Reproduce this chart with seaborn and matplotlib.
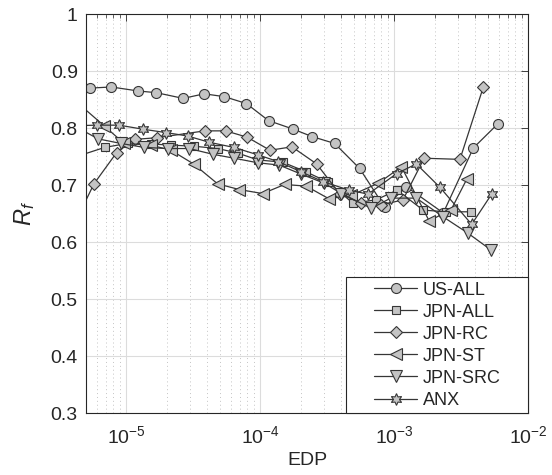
import numpy as np
import pandas as pd
import matplotlib
matplotlib.use("Agg")
import matplotlib.pyplot as plt
import seaborn as sns
from matplotlib.ticker import LogLocator, FixedLocator, NullFormatter
from matplotlib.patches import Rectangle

sns.set_style("white")
plt.rcParams['font.family'] = ['Liberation Sans', 'DejaVu Sans']
plt.rcParams['mathtext.fontset'] = 'custom'
plt.rcParams['mathtext.rm'] = 'Liberation Sans'
plt.rcParams['mathtext.it'] = 'Liberation Sans:italic'

series_names = ["US-ALL", "JPN-ALL", "JPN-RC", "JPN-ST", "JPN-SRC", "ANX"]

us_all_x = [5.34e-6, 7.72e-6, 1.22e-5, 1.67e-5, 2.65e-5, 3.81e-5, 5.38e-5, 7.86e-5, 1.15e-4,
            1.76e-4, 2.43e-4, 3.58e-4, 5.51e-4, 8.48e-4, 1.23e-3, 2.32e-3, 3.89e-3, 5.91e-3]
us_all_y = [0.870, 0.872, 0.865, 0.862, 0.852, 0.860, 0.855, 0.843, 0.813,
            0.798, 0.785, 0.773, 0.729, 0.661, 0.697, 0.651, 0.765, 0.807]

jpn_all_x = [4.0e-6, 6.89e-6, 1.02e-5, 1.52e-5, 2.15e-5, 3.21e-5, 4.8e-5, 6.78e-5, 9.57e-5,
             1.47e-4, 2.2e-4, 3.2e-4, 4.92e-4, 7.3e-4, 1.05e-3, 1.64e-3, 2.45e-3, 3.73e-3]
jpn_all_y = [0.748, 0.766, 0.773, 0.772, 0.770, 0.768, 0.764, 0.756, 0.744,
             0.740, 0.723, 0.705, 0.668, 0.674, 0.691, 0.656, 0.653, 0.653]

jpn_rc_x = [4.0e-6, 5.72e-6, 8.46e-6, 1.15e-5, 1.69e-5, 3.85e-5, 5.51e-5, 7.95e-5, 1.18e-4,
            1.72e-4, 2.63e-4, 3.9e-4, 5.67e-4, 8.0e-4, 1.16e-3, 1.67e-3, 3.09e-3, 4.62e-3]
jpn_rc_y = [0.627, 0.702, 0.757, 0.780, 0.783, 0.795, 0.795, 0.784, 0.761,
            0.767, 0.737, 0.685, 0.668, 0.665, 0.674, 0.747, 0.745, 0.872]

jpn_st_x = [4.0e-6, 6.8e-6, 9.6e-6, 1.52e-5, 2.15e-5, 3.17e-5, 4.8e-5, 6.97e-5, 1.04e-4,
            1.52e-4, 2.2e-4, 3.24e-4, 4.77e-4, 7.57e-4, 1.13e-3, 1.82e-3, 2.66e-3, 3.47e-3]
jpn_st_y = [0.851, 0.804, 0.773, 0.770, 0.761, 0.737, 0.702, 0.692, 0.685,
            0.701, 0.698, 0.676, 0.682, 0.703, 0.732, 0.637, 0.657, 0.710]

jpn_src_x = [4.0e-6, 6.13e-6, 9.06e-6, 1.35e-5, 2.03e-5, 2.94e-5, 4.4e-5, 6.38e-5, 9.57e-5,
             1.38e-4, 2.02e-4, 3.01e-4, 4.02e-4, 6.74e-4, 9.4e-4, 1.46e-3, 2.32e-3, 3.52e-3, 5.27e-3]
jpn_src_y = [0.805, 0.781, 0.773, 0.766, 0.764, 0.764, 0.754, 0.747, 0.739,
             0.735, 0.719, 0.703, 0.685, 0.659, 0.677, 0.677, 0.644, 0.616, 0.586]

anx_x = [4.0e-6, 6.0e-6, 8.81e-6, 1.32e-5, 1.97e-5, 2.86e-5, 4.15e-5, 6.32e-5, 9.57e-5,
         1.36e-4, 2.02e-4, 2.93e-4, 4.59e-4, 6.37e-4, 1.04e-3, 1.46e-3, 2.19e-3, 3.78e-3, 5.33e-3]
anx_y = [0.804, 0.805, 0.805, 0.798, 0.792, 0.786, 0.775, 0.766, 0.753,
         0.741, 0.723, 0.706, 0.691, 0.684, 0.720, 0.737, 0.696, 0.631, 0.684]

xs = [us_all_x, jpn_all_x, jpn_rc_x, jpn_st_x, jpn_src_x, anx_x]
ys = [us_all_y, jpn_all_y, jpn_rc_y, jpn_st_y, jpn_src_y, anx_y]
markers = ['o', 's', 'D', '<', 'v', (6, 1, 0)]
msizes = [7.2, 6.2, 6.0, 8.0, 8.0, 8.5]

fig = plt.figure(figsize=(5.52, 4.75), dpi=100)
ax = fig.add_axes([0.156, 0.1305, 0.801, 0.84])

edge = '#363636'
face = '#c4c4c4'
for name, x, y, m, ms in zip(series_names, xs, ys, markers, msizes):
    df = pd.DataFrame({'EDP': x, 'Rf': y})
    sns.lineplot(data=df, x='EDP', y='Rf', ax=ax, sort=False, estimator=None,
                 color=edge, linewidth=0.9, marker=m, markersize=ms,
                 markerfacecolor=face, markeredgecolor=edge, markeredgewidth=0.8,
                 label=name)

ax.set_xscale('log')
ax.set_xlim(5e-6, 1e-2)
ax.set_ylim(0.3, 1.0)
ax.set_yticks(np.arange(0.3, 1.01, 0.1))
ax.set_yticklabels(['0.3', '0.4', '0.5', '0.6', '0.7', '0.8', '0.9', '1'])
ax.xaxis.set_major_locator(FixedLocator([1e-5, 1e-4, 1e-3, 1e-2]))
ax.xaxis.set_minor_locator(LogLocator(base=10, subs=np.arange(2, 10), numticks=20))
ax.xaxis.set_minor_formatter(NullFormatter())

ax.grid(True, which='major', color='#dcdcdc', linewidth=0.8, linestyle='-')
ax.grid(True, which='minor', axis='x', color='#c4c4c4', linewidth=0.7, linestyle=(0, (1, 3)))
ax.set_axisbelow(True)

ax.tick_params(axis='both', which='both', direction='in', top=True, right=True,
               labelsize=14, colors='#262626')
ax.tick_params(which='major', length=5, width=0.6)
ax.tick_params(which='minor', length=3, width=0.5)
ax.tick_params(axis='x', pad=9)
ax.tick_params(axis='y', pad=6)
for s in ax.spines.values():
    s.set_color('#262626')
    s.set_linewidth(0.8)

ax.set_xlabel('EDP', fontsize=14, labelpad=3, color='#262626')
ax.set_ylabel('$R_f$', fontsize=17, labelpad=10, color='#262626')

# legend frame (lower right, anchored to axes corner)
fx0, fy0, fw, fh = 0.588, 0.0, 0.412, 0.340
rect = Rectangle((fx0, fy0), fw, fh, transform=ax.transAxes, facecolor='white',
                 edgecolor='#262626', linewidth=0.8, zorder=9, clip_on=False)
ax.add_patch(rect)
leg = ax.legend(loc='center', bbox_to_anchor=(fx0 + fw / 2, fy0 + fh / 2),
                fontsize=13, frameon=False, borderaxespad=0.0,
                handlelength=2.4, labelspacing=0.28, borderpad=0.2, handletextpad=0.3)
leg.set_zorder(10)

fig.savefig('out.png', dpi=100)
